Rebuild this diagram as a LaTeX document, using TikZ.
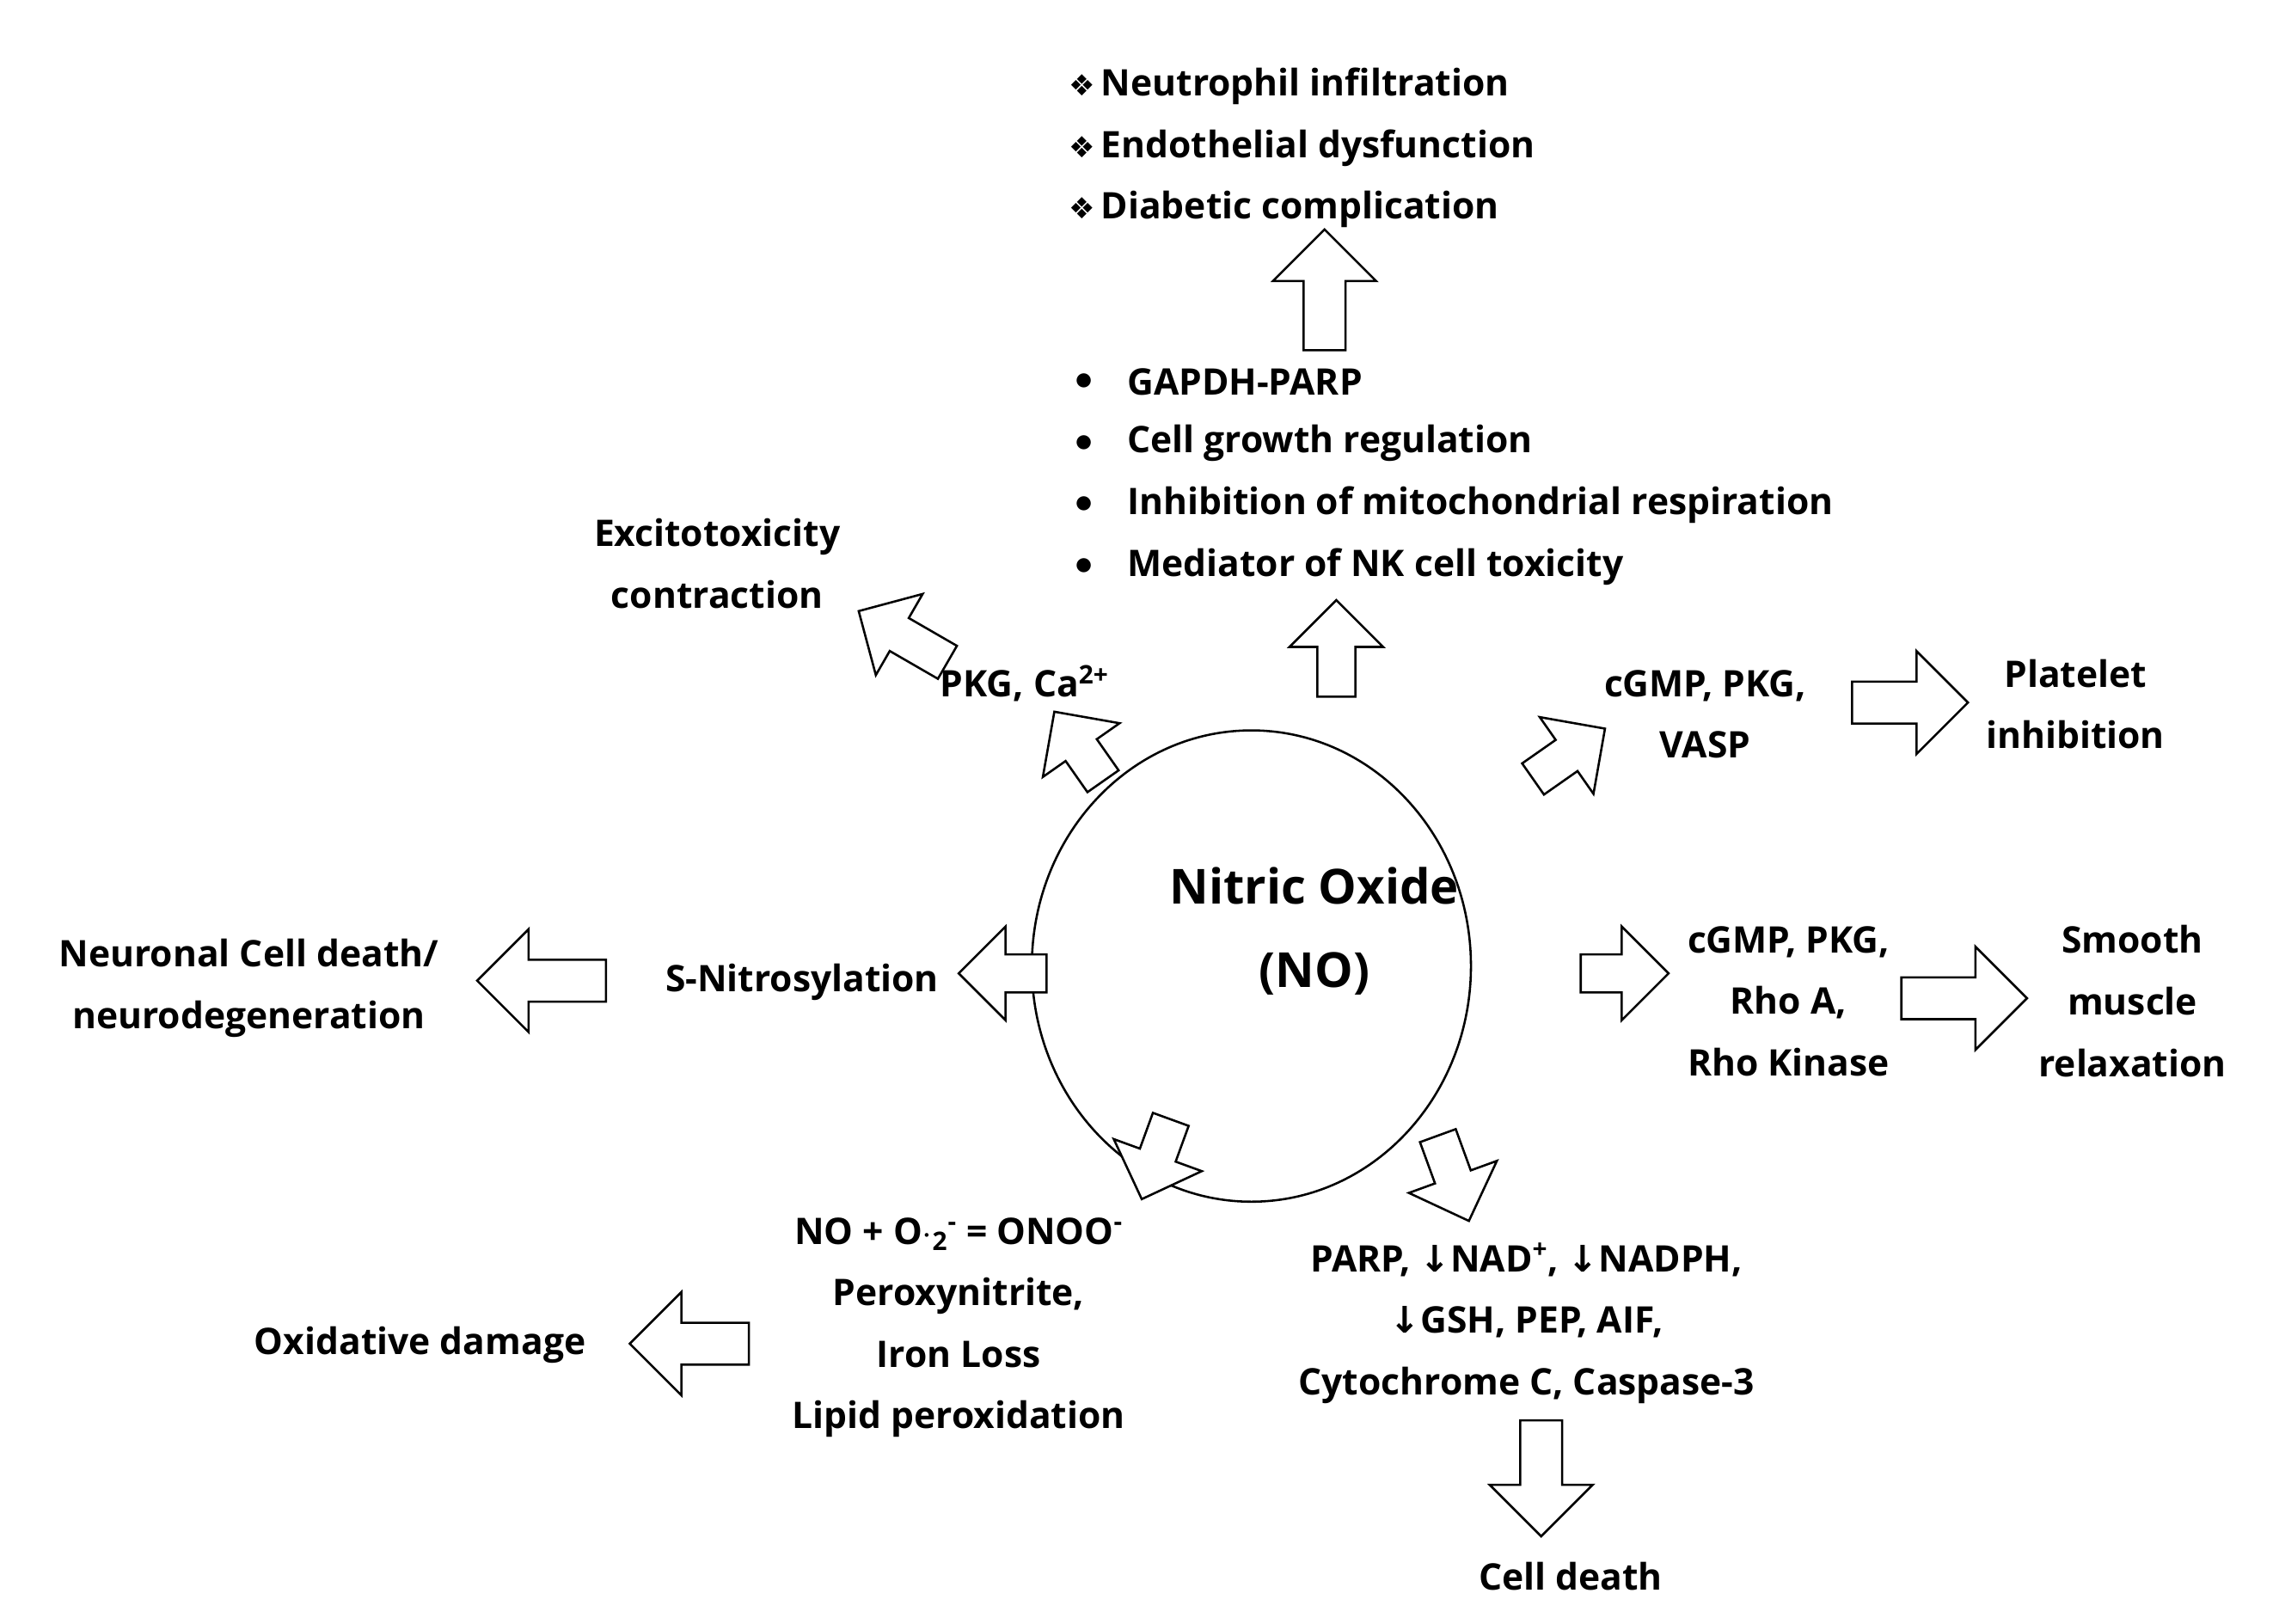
\documentclass[tikz,border=0pt]{standalone}
\usepackage{fontspec}
\usetikzlibrary{shapes.geometric}
\setmainfont{Open Sans}[BoldFont={Open Sans Bold}]
\newfontfamily\dvs{DejaVu Sans}
\newcommand\dnar{{\dvs\bfseries ↓}}
\begin{document}
\begin{tikzpicture}[x=1pt,y=1pt,
  t/.style={font=\fontsize{25}{42}\selectfont\bfseries, align=center, inner sep=0pt},
  tl/.style={t, align=left, anchor=west},
  ar/.style={line width=1.5pt, fill=white, line join=miter}]
\useasboundingbox (0,0) rectangle (1553,-1109);
% block arrow: x, y(visual), angle, length, scale
\newcommand\barrow[5]{%
  \draw[ar, shift={(#1,-#2)}, rotate=#3, scale=#5]
   (-#4/2,-13) -- (#4/2-32,-13) -- (#4/2-32,-32) -- (#4/2,0) -- (#4/2-32,32)
   -- (#4/2-32,13) -- (-#4/2,13) -- cycle;}
\node[draw, line width=1.5pt, ellipse, minimum width=300, minimum height=322] (no) at (855,-660) {};
\node[t, font=\fontsize{33}{57}\selectfont\bfseries] (not) at (898,-636) {Nitric Oxide\\(NO)};

\barrow{905}{198}{90}{75}{1.1}
\barrow{913}{443}{90}{66}{1}
\barrow{617}{435}{150}{70}{1}
\barrow{737}{510}{125}{58}{1}
\barrow{1072}{515}{35}{60}{1}
\barrow{1305}{480}{0}{72}{1.1}
\barrow{1110}{665}{0}{60}{1}
\barrow{1342}{682}{0}{78}{1.1}
\barrow{685}{665}{180}{60}{1}
\barrow{370}{670}{180}{80}{1.1}
\barrow{790}{792}{-110}{58}{1}
\barrow{993}{805}{-70}{62}{1}
\barrow{1053}{1010}{-90}{72}{1.1}
\barrow{471}{918}{180}{74}{1.1}

\node[tl] (a1) at (730,-59) {{\dvs\fontsize{20}{20}\selectfont ❖}\,Neutrophil infiltration};
\node[tl] (a2) at (730,-101) {{\dvs\fontsize{20}{20}\selectfont ❖}\,Endothelial dysfunction};
\node[tl] (a3) at (730,-143) {{\dvs\fontsize{20}{20}\selectfont ❖}\,Diabetic complication};

\foreach \yy/\tx in {261/GAPDH-PARP, 303/Cell growth regulation, 345/Inhibition of mitochondrial respiration, 387/Mediator of NK cell toxicity}{
  \node[t] at (741,-\yy) {$\bullet$};
  \node[tl] at (770,-\yy) {\tx};
}
\node[t] (ex) at (490,-385) {Excitotoxicity\\contraction};
\node[t] (pkg) at (700,-467) {PKG, Ca\textsuperscript{2+}};
\node[t] (cg1) at (1165,-488) {cGMP, PKG,\\VASP};
\node[t] (pl) at (1418,-481) {Platelet\\inhibition};
\node[t] (cg2) at (1222,-684) {cGMP, PKG,\\Rho A,\\Rho Kinase};
\node[t] (sm) at (1457,-684) {Smooth\\muscle\\relaxation};
\node[t] (sn) at (548,-671) {S-Nitrosylation};
\node[t] (nc) at (170,-675) {Neuronal Cell death/\\neurodegeneration};
\node[t] (onoo) at (655,-907) {NO + O$\cdot$\textsubscript{2}\textsuperscript{-}\ = ONOO\textsuperscript{-}\\Peroxynitrite,\\Iron Loss\\Lipid peroxidation};
\node[t] (ox) at (287,-919) {Oxidative damage};
\node[t] (parp) at (1043,-904) {PARP, \dnar NAD\textsuperscript{+}, \dnar NADPH,\\\dnar GSH, PEP, AIF,\\Cytochrome C, Caspase-3};
\node[t] (cd) at (1073,-1077) {Cell death};
\end{tikzpicture}
\end{document}
